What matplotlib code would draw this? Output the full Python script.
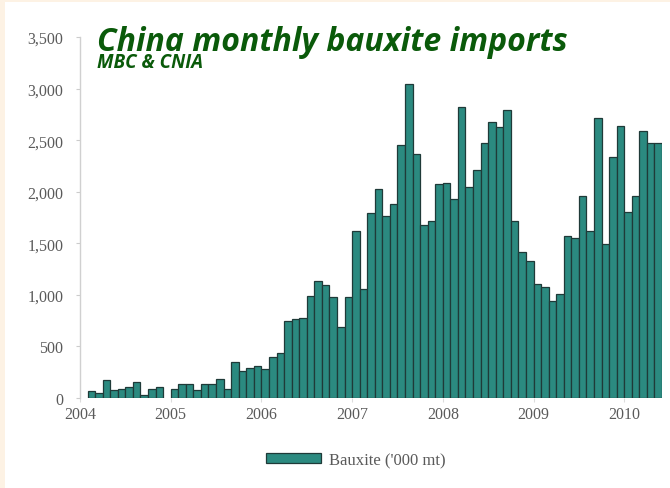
#!/usr/bin/env python3
# -*- coding: utf-8 -*-

import numpy as np
import matplotlib
matplotlib.use("Agg")
import matplotlib.pyplot as plt
from matplotlib.patches import Rectangle
from matplotlib.ticker import FuncFormatter

# monthly bauxite imports, '000 mt, Jan 2004 - May 2010 (nan = no data)
imports_2004 = [np.nan, 65, 45, 170, 80, 85, 105, 155, 30, 85, 105, np.nan]
imports_2005 = [85, 140, 140, 80, 140, 140, 185, 90, 350, 260, 290, 315]
imports_2006 = [285, 395, 435, 750, 770, 780, 990, 1135, 1095, 980, 685, 980]
imports_2007 = [1620, 1055, 1795, 2030, 1760, 1880, 2450, 3045, 2365, 1680, 1720, 2075]
imports_2008 = [2085, 1930, 2820, 2050, 2215, 2470, 2680, 2625, 2795, 1720, 1420, 1330]
imports_2009 = [1105, 1075, 940, 1010, 1570, 1550, 1960, 1620, 2710, 1495, 2335, 2640]
imports_2010 = [1805, 1960, 2590, 2470, 2470]

years = ['2004', '2005', '2006', '2007', '2008', '2009', '2010']
y_ticks = [0, 500, 1000, 1500, 2000, 2500, 3000, 3500]

values = np.array(imports_2004 + imports_2005 + imports_2006 + imports_2007
                  + imports_2008 + imports_2009 + imports_2010, dtype=float)
months = np.arange(len(values))

W, H = 670, 489
fig = plt.figure(figsize=(W / 100, H / 100), dpi=100)
fig.patch.set_facecolor('#fdf2e4')
# white panel inside the cream frame
fig.patches.append(Rectangle((5 / W, 0), 1, 486 / H, transform=fig.transFigure,
                             facecolor='white', edgecolor='none', zorder=-10))

ax = fig.add_axes([80 / W, (H - 399) / H, (662 - 80) / W, (399 - 38) / H])
ax.set_facecolor('none')

bar_color = '#2b8a80'
ax.bar(months, values, width=1.0, align='edge', color=bar_color,
       edgecolor='#1f3a38', linewidth=0.9, label="Bauxite ('000 mt)")

ax.set_xlim(0, len(values))
ax.set_ylim(0, 3500)
ax.set_yticks(y_ticks)
ax.yaxis.set_major_formatter(FuncFormatter(lambda v, p: f'{int(v):,}'))
ax.set_xticks(np.arange(len(years)) * 12)
ax.set_xticklabels(years)

serif = 'Liberation Serif'
for lab in ax.get_xticklabels() + ax.get_yticklabels():
    lab.set_fontfamily(serif)
    lab.set_fontsize(11.5)
    lab.set_color('#5a5a5a')

ax.tick_params(axis='y', length=3, width=0.8, color='#cccccc', pad=9)
ax.tick_params(axis='x', length=3, width=0.8, color='#dddddd', pad=3)

for side in ['top', 'right', 'bottom']:
    ax.spines[side].set_visible(False)
ax.spines['left'].set_color('#d0d0d0')
ax.spines['left'].set_linewidth(1.0)

# title and source
fig.text(97 / W, 1 - 51 / H, 'China monthly bauxite imports', fontsize=23,
         fontweight='bold', fontstyle='italic', color='#0a5a0a',
         family=['Open Sans', 'DejaVu Sans'], va='baseline', ha='left')
fig.text(97 / W, 1 - 68 / H, 'MBC & CNIA', fontsize=13.5,
         fontweight='bold', fontstyle='italic', color='#0a5a0a',
         family=['Open Sans', 'DejaVu Sans'], va='baseline', ha='left')

leg = fig.legend(loc='center', bbox_to_anchor=(356 / W, 1 - 461 / H), frameon=False,
                 prop={'family': serif, 'size': 12}, handlelength=3.3,
                 handleheight=0.6, handletextpad=0.5)
for t in leg.get_texts():
    t.set_color('#5a5a5a')

fig.savefig('out.png', dpi=100, facecolor=fig.get_facecolor())
